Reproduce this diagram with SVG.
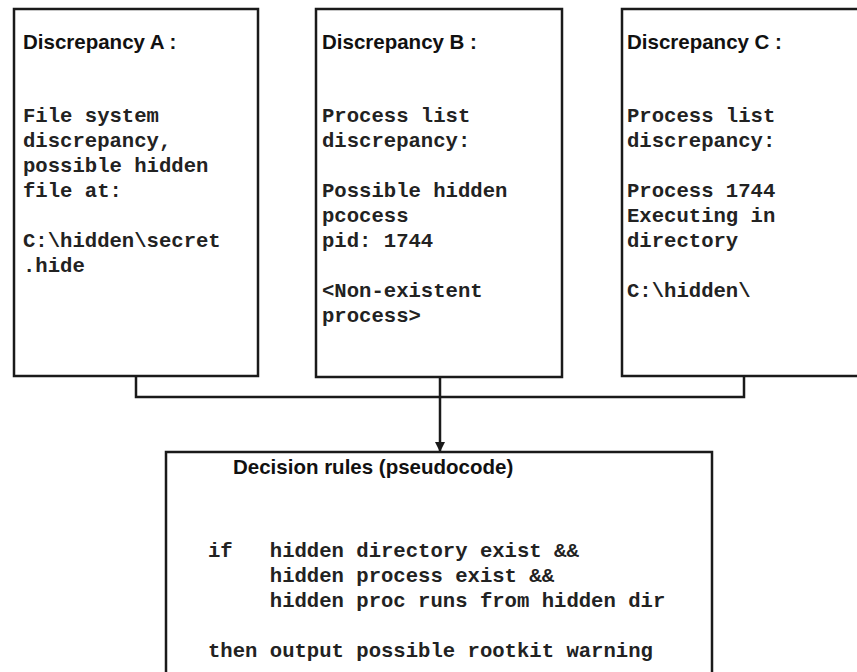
<svg xmlns="http://www.w3.org/2000/svg" width="857" height="672" viewBox="0 0 857 672">
<defs>
<style>
.box{fill:#fff;stroke:#1a1a1a;stroke-width:2.5}
.ttl{font-family:"Liberation Sans",Arial,sans-serif;font-weight:bold;font-size:20.5px;fill:#111}
.mono{font-family:"Liberation Mono","Courier New",monospace;font-weight:bold;font-size:20.6px;fill:#222}
.conn{fill:none;stroke:#1a1a1a;stroke-width:2.5}
</style>
<marker id="arr" markerWidth="10" markerHeight="10" refX="9" refY="5" orient="auto" markerUnits="userSpaceOnUse">
<path d="M0,0 L10,5 L0,10 Z" fill="#1a1a1a"/>
</marker>
</defs>
<rect width="857" height="672" fill="#fff"/>
<g id="connectors">
<path class="conn" d="M136,376 V397 H744 V376"/>
<path class="conn" d="M440,377 V451" marker-end="url(#arr)"/>
</g>
<g id="discrepancyA">
<rect class="box" x="14" y="9" width="244" height="367"/>
<text class="ttl" x="23" y="49">Discrepancy A :</text>
<text class="mono" x="23" y="122">File system</text>
<text class="mono" x="23" y="147">discrepancy,</text>
<text class="mono" x="23" y="172">possible hidden</text>
<text class="mono" x="23" y="197">file at:</text>
<text class="mono" x="23" y="247">C:\hidden\secret</text>
<text class="mono" x="23" y="272">.hide</text>
</g>
<g id="discrepancyB">
<rect class="box" x="316" y="9" width="246" height="368"/>
<text class="ttl" x="322" y="49">Discrepancy B :</text>
<text class="mono" x="322" y="122">Process list</text>
<text class="mono" x="322" y="147">discrepancy:</text>
<text class="mono" x="322" y="197">Possible hidden</text>
<text class="mono" x="322" y="222">pcocess</text>
<text class="mono" x="322" y="247">pid: 1744</text>
<text class="mono" x="322" y="297">&lt;Non-existent</text>
<text class="mono" x="322" y="322">process&gt;</text>
</g>
<g id="discrepancyC">
<rect class="box" x="622" y="9" width="250" height="367"/>
<text class="ttl" x="627" y="49">Discrepancy C :</text>
<text class="mono" x="627" y="122">Process list</text>
<text class="mono" x="627" y="147">discrepancy:</text>
<text class="mono" x="627" y="197">Process 1744</text>
<text class="mono" x="627" y="222">Executing in</text>
<text class="mono" x="627" y="247">directory</text>
<text class="mono" x="627" y="297">C:\hidden\</text>
</g>
<g id="decisionRules">
<rect class="box" x="166" y="452" width="546" height="240"/>
<text class="ttl" x="233" y="474">Decision rules (pseudocode)</text>
<text class="mono" x="208" y="557" xml:space="preserve">if   hidden directory exist &amp;&amp;</text>
<text class="mono" x="208" y="582" xml:space="preserve">     hidden process exist &amp;&amp;</text>
<text class="mono" x="208" y="607" xml:space="preserve">     hidden proc runs from hidden dir</text>
<text class="mono" x="208" y="657">then output possible rootkit warning</text>
</g>
</svg>
